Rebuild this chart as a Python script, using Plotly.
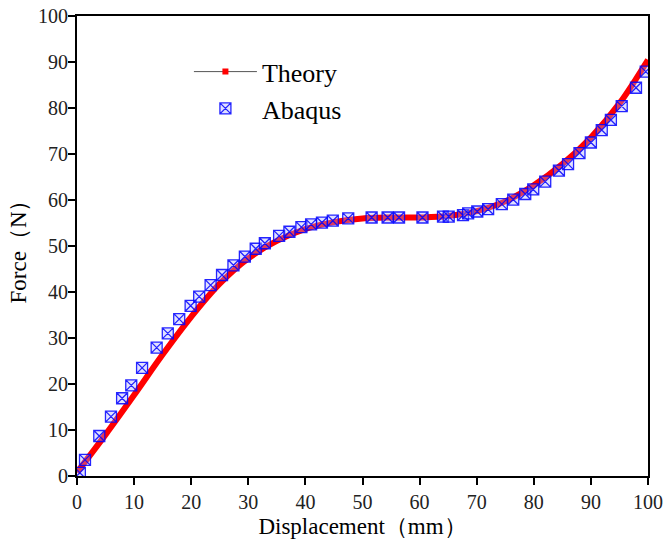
import plotly.graph_objects as go

# ===== DATA =====
theory_x = [0, 5, 10, 15, 20, 25, 30, 35, 40, 45, 50,
            55, 60, 65, 70, 75, 80, 85, 90, 95, 100]
theory_y = [0.8, 9.0, 17.6, 26.4, 34.6, 41.8, 47.3, 51.1, 53.7, 55.2, 56.0,
            56.2, 56.2, 56.5, 57.6, 59.7, 63.2, 67.8, 73.6, 81.0, 90.5]

abaqus_x = [0.5, 1.4, 3.9, 5.95, 7.9, 9.5, 11.4, 13.95, 15.9, 17.9, 19.9, 21.4,
            23.4, 25.4, 27.4, 29.4, 31.3, 32.9, 35.4, 37.2, 39.3, 41.0, 42.9,
            44.8, 47.5, 51.6, 54.4, 56.4, 60.5, 64.1, 65.1, 67.6, 68.5, 70.1,
            72.0, 74.4, 76.4, 78.5, 79.9, 82.0, 84.4, 86.0, 88.0, 90.0, 91.9,
            93.5, 95.4, 97.9, 99.6]
abaqus_y = [0.7, 3.5, 8.7, 12.9, 16.9, 19.7, 23.5, 27.9, 31.0, 34.1, 37.0, 39.0,
            41.5, 43.7, 45.8, 47.7, 49.4, 50.6, 52.2, 53.1, 54.1, 54.7, 55.1,
            55.5, 56.0, 56.2, 56.2, 56.2, 56.2, 56.4, 56.4, 56.7, 57.1, 57.5,
            58.0, 59.1, 60.1, 61.3, 62.3, 64.0, 66.4, 67.8, 70.2, 72.5, 75.2,
            77.4, 80.4, 84.4, 87.9]

tick_vals = list(range(0, 101, 10))

FONT = "Liberation Serif"

fig = go.Figure()

# thick red band for the theory curve
fig.add_trace(go.Scatter(
    x=theory_x, y=theory_y, mode="lines", line=dict(color="#ff0000", width=6, shape="spline"),
    showlegend=False, hoverinfo="skip"
))
# legend-only entry: thin line with small red square
fig.add_trace(go.Scatter(
    x=[None], y=[None], mode="lines+markers", name="Theory",
    line=dict(color="#555555", width=1),
    marker=dict(symbol="square", color="#ff0000", size=6)
))
fig.add_trace(go.Scatter(
    x=abaqus_x, y=abaqus_y, mode="markers", name="Abaqus",
    marker=dict(symbol="square-x", size=11, color="rgba(170,170,255,0.35)",
                line=dict(color="rgba(0,0,255,0.85)", width=1.3))
))

axis_common = dict(
    range=[0, 100], tickvals=tick_vals, showgrid=False, zeroline=False,
    showline=True, linecolor="black", linewidth=2, mirror=True,
    ticks="outside", ticklen=7, tickwidth=2, tickcolor="black",
    tickfont=dict(family=FONT, size=20, color="#222222"),
    automargin=False, ticklabeloverflow="allow",
)

fig.update_xaxes(**axis_common, title=dict(text="Displacement（mm）", standoff=6,
                                            font=dict(family=FONT, size=23, color="black")))
fig.update_yaxes(**axis_common, ticklabelstandoff=-4,
                 title=dict(text="Force（N）", standoff=5,
                            font=dict(family=FONT, size=23, color="black")))

fig.update_layout(
    width=671, height=549,
    margin=dict(l=77, r=23, t=16, b=73),
    plot_bgcolor="white", paper_bgcolor="white",
    legend=dict(x=0.196, y=0.93, xanchor="left", yanchor="top",
                bgcolor="rgba(0,0,0,0)", font=dict(family=FONT, size=26, color="black"),
                itemwidth=63),
)

# drop the default 8px page margin so the figure fills the window
fig.write_html("out.html", config={"displayModeBar": False},
               post_script="document.body.style.margin='0';")
